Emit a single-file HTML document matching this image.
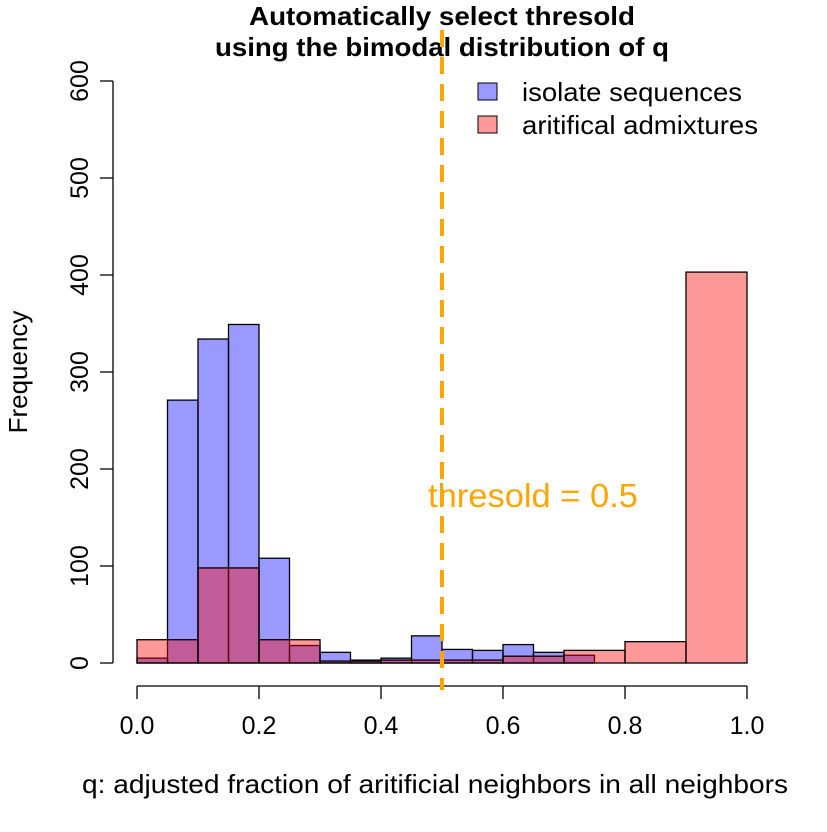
<!DOCTYPE html>
<html><head><meta charset="utf-8"><style>
body{margin:0;background:#fff}
text{font-family:"Liberation Sans",Arial,sans-serif}
</style></head><body>
<svg id="chart" width="827" height="827" xmlns="http://www.w3.org/2000/svg">
<rect width="827" height="827" fill="#fff"/>
<text x="442" y="25" font-size="26" font-weight="bold" text-anchor="middle" textLength="386" lengthAdjust="spacingAndGlyphs">Automatically select thresold</text>
<text x="442" y="56" font-size="26" font-weight="bold" text-anchor="middle" textLength="454" lengthAdjust="spacingAndGlyphs">using the bimodal distribution of q</text>
<g id="bars"></g>
<g id="axes"></g>
<text x="435" y="793" font-size="26" text-anchor="middle" textLength="706" lengthAdjust="spacingAndGlyphs">q: adjusted fraction of aritificial neighbors in all neighbors</text>
<text transform="translate(27,372) rotate(-90)" font-size="26" text-anchor="middle">Frequency</text>
<line x1="442" y1="30" x2="442" y2="690" stroke="#FFA500" stroke-width="4" stroke-dasharray="17,10"/>
<text x="533" y="507" font-size="33" fill="#FFA500" text-anchor="middle" textLength="210" lengthAdjust="spacingAndGlyphs">thresold = 0.5</text>
<rect x="478" y="83" width="19" height="17" fill="#9999ff" stroke="#000"/>
<text x="522" y="101" font-size="26" textLength="220" lengthAdjust="spacingAndGlyphs">isolate sequences</text>
<rect x="478" y="116" width="19" height="17" fill="#ff9999" stroke="#000"/>
<text x="522" y="134" font-size="26" textLength="236" lengthAdjust="spacingAndGlyphs">aritifical admixtures</text>
</svg>
<script>
const blueBreaks=[0,0.05,0.1,0.15,0.2,0.25,0.3,0.35,0.4,0.45,0.5,0.55,0.6,0.65,0.7,0.75];
const blueCounts=[5,271,334,349,108,18,11,3,5,28,14,13,19,11,8];
const redBreaks=[0,0.1,0.2,0.3,0.4,0.5,0.6,0.7,0.8,0.9,1.0];
const redCounts=[24,98,24,2,3,3,7,13,22,403];
const xTicks=[0,0.2,0.4,0.6,0.8,1.0];
const xTickLabels=["0.0","0.2","0.4","0.6","0.8","1.0"];
const yTicks=[0,100,200,300,400,500,600];
const NS="http://www.w3.org/2000/svg";
const X=v=>137+v*610;
const Y=v=>663-v*0.97;
const bars=document.getElementById('bars');
const axes=document.getElementById('axes');
function mk(tag,attrs,parent){const e=document.createElementNS(NS,tag);for(const k in attrs)e.setAttribute(k,attrs[k]);parent.appendChild(e);return e;}
function drawHist(br,ct,fill,name){
  for(let i=0;i<ct.length;i++){
    const r=mk('rect',{x:X(br[i]),y:Y(ct[i]),width:X(br[i+1])-X(br[i]),height:Y(0)-Y(ct[i]),fill:fill,stroke:'#000','stroke-width':1.3},bars);
    
    
  }
}
drawHist(blueBreaks,blueCounts,'rgba(0,0,255,0.4)','isolate');
drawHist(redBreaks,redCounts,'rgba(255,0,0,0.4)','admixture');
const xl=mk('line',{x1:X(0),x2:X(1),y1:686,y2:686,stroke:'#000','stroke-width':1.3},axes);


xTicks.forEach((t,i)=>{
  mk('line',{x1:X(t),x2:X(t),y1:686,y2:699,stroke:'#000','stroke-width':1.3},axes);
  const tx=mk('text',{x:X(t),y:734,'font-size':25,'text-anchor':'middle'},axes);
  tx.textContent=xTickLabels[i];
  
  
});
const yl=mk('line',{x1:113,x2:113,y1:Y(0),y2:Y(600),stroke:'#000','stroke-width':1.3},axes);


yTicks.forEach(t=>{
  mk('line',{x1:100,x2:113,y1:Y(t),y2:Y(t),stroke:'#000','stroke-width':1.3},axes);
  const tx=mk('text',{transform:`translate(88,${Y(t)}) rotate(-90)`,'font-size':25,'text-anchor':'middle'},axes);
  tx.textContent=String(t);
  
  
});
</script>
</body></html>
